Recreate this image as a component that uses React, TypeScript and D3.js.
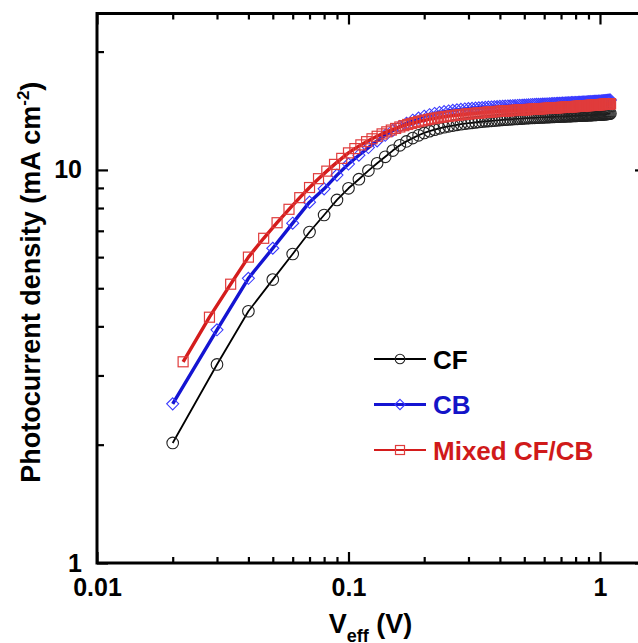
import { useEffect, useRef } from "react";
import * as d3 from "d3";

// V_eff (V) for the CF and CB sweeps
const VOLT = [
  0.02, 0.03, 0.04, 0.05, 0.06, 0.07, 0.08, 0.09, 0.1, 0.11,
  0.12, 0.13, 0.14, 0.15, 0.16, 0.17, 0.18, 0.19, 0.2, 0.21,
  0.22, 0.23, 0.24, 0.25, 0.26, 0.27, 0.28, 0.29, 0.3, 0.31,
  0.32, 0.33, 0.34, 0.35, 0.36, 0.37, 0.38, 0.39, 0.4, 0.41,
  0.42, 0.43, 0.44, 0.45, 0.46, 0.47, 0.48, 0.49, 0.5, 0.51,
  0.52, 0.53, 0.54, 0.55, 0.56, 0.57, 0.58, 0.59, 0.6, 0.61,
  0.62, 0.63, 0.64, 0.65, 0.66, 0.67, 0.68, 0.69, 0.7, 0.71,
  0.72, 0.73, 0.74, 0.75, 0.76, 0.77, 0.78, 0.79, 0.8, 0.81,
  0.82, 0.83, 0.84, 0.85, 0.86, 0.87, 0.88, 0.89, 0.9, 0.91,
  0.92, 0.93, 0.94, 0.95, 0.96, 0.97, 0.98, 0.99, 1.0, 1.01,
  1.02, 1.03, 1.04, 1.05, 1.06, 1.07, 1.08, 1.09, 1.1,
];

// photocurrent density (mA cm-2)
const CF = [
  2.02, 3.2, 4.37, 5.26, 6.11, 6.95, 7.68, 8.39, 8.98, 9.47,
  9.96, 10.4, 10.8, 11.2, 11.55, 11.82, 12.05, 12.25, 12.42, 12.55,
  12.66, 12.76, 12.84, 12.91, 12.97, 13.02, 13.07, 13.11, 13.15, 13.18,
  13.21, 13.24, 13.27, 13.29, 13.31, 13.33, 13.35, 13.37, 13.39, 13.41,
  13.42, 13.44, 13.45, 13.47, 13.48, 13.49, 13.5, 13.51, 13.53, 13.54,
  13.55, 13.56, 13.57, 13.57, 13.58, 13.59, 13.6, 13.61, 13.61, 13.62,
  13.63, 13.63, 13.64, 13.65, 13.65, 13.66, 13.66, 13.67, 13.68, 13.68,
  13.69, 13.69, 13.7, 13.7, 13.71, 13.71, 13.72, 13.72, 13.73, 13.73,
  13.74, 13.74, 13.75, 13.75, 13.76, 13.76, 13.77, 13.77, 13.78, 13.78,
  13.79, 13.79, 13.8, 13.8, 13.81, 13.81, 13.82, 13.82, 13.83, 13.83,
  13.84, 13.85, 13.85, 13.86, 13.87, 13.88, 13.89, 13.9, 13.92,
];

const CB = [
  2.54, 3.92, 5.3, 6.32, 7.32, 8.28, 8.95, 9.7, 10.35, 10.9,
  11.4, 11.85, 12.25, 12.6, 12.9, 13.15, 13.38, 13.55, 13.7, 13.82,
  13.92, 14.0, 14.07, 14.13, 14.18, 14.22, 14.26, 14.29, 14.32, 14.35,
  14.37, 14.39, 14.41, 14.43, 14.45, 14.46, 14.48, 14.49, 14.51, 14.52,
  14.53, 14.55, 14.56, 14.57, 14.58, 14.59, 14.6, 14.61, 14.62, 14.63,
  14.64, 14.65, 14.66, 14.67, 14.68, 14.68, 14.69, 14.7, 14.71, 14.72,
  14.72, 14.73, 14.74, 14.75, 14.75, 14.76, 14.77, 14.77, 14.78, 14.79,
  14.79, 14.8, 14.81, 14.81, 14.82, 14.83, 14.83, 14.84, 14.85, 14.85,
  14.86, 14.86, 14.87, 14.88, 14.88, 14.89, 14.89, 14.9, 14.91, 14.91,
  14.92, 14.93, 14.93, 14.94, 14.95, 14.95, 14.96, 14.97, 14.97, 14.98,
  14.99, 15.0, 15.0, 15.01, 15.02, 15.03, 15.04, 15.05, 15.06,
];

// the mixed device was swept with a finer step
const VOLT_MIX = [
  0.022, 0.028, 0.034, 0.04, 0.046, 0.052, 0.058, 0.064, 0.07, 0.076,
  0.082, 0.088, 0.094, 0.1, 0.106, 0.112, 0.118, 0.124, 0.13, 0.136,
  0.142, 0.148, 0.154, 0.16, 0.166, 0.172, 0.178, 0.184, 0.19, 0.196,
  0.202, 0.208, 0.214, 0.22, 0.226, 0.232, 0.238, 0.244, 0.25, 0.256,
  0.262, 0.268, 0.274, 0.28, 0.286, 0.292, 0.298, 0.304, 0.31, 0.316,
  0.322, 0.328, 0.334, 0.34, 0.346, 0.352, 0.358, 0.364, 0.37, 0.376,
  0.382, 0.388, 0.394, 0.4, 0.406, 0.412, 0.418, 0.424, 0.43, 0.436,
  0.442, 0.448, 0.454, 0.46, 0.466, 0.472, 0.478, 0.484, 0.49, 0.496,
  0.502, 0.508, 0.514, 0.52, 0.526, 0.532, 0.538, 0.544, 0.55, 0.556,
  0.562, 0.568, 0.574, 0.58, 0.586, 0.592, 0.598, 0.604, 0.61, 0.616,
  0.622, 0.628, 0.634, 0.64, 0.646, 0.652, 0.658, 0.664, 0.67, 0.676,
  0.682, 0.688, 0.694, 0.7, 0.706, 0.712, 0.718, 0.724, 0.73, 0.736,
  0.742, 0.748, 0.754, 0.76, 0.766, 0.772, 0.778, 0.784, 0.79, 0.796,
  0.802, 0.808, 0.814, 0.82, 0.826, 0.832, 0.838, 0.844, 0.85, 0.856,
  0.862, 0.868, 0.874, 0.88, 0.886, 0.892, 0.898, 0.904, 0.91, 0.916,
  0.922, 0.928, 0.934, 0.94, 0.946, 0.952, 0.958, 0.964, 0.97, 0.976,
  0.982, 0.988, 0.994, 1.0, 1.006, 1.012, 1.018, 1.024, 1.03, 1.036,
  1.042, 1.048, 1.054, 1.06, 1.066, 1.072, 1.078, 1.084, 1.09, 1.096,
  1.102,
];

const MIX = [
  3.25, 4.22, 5.12, 6.0, 6.7, 7.34, 7.94, 8.5, 9.02, 9.5,
  9.93, 10.33, 10.7, 11.05, 11.33, 11.58, 11.8, 12.0, 12.18, 12.35,
  12.5, 12.63, 12.75, 12.86, 12.96, 13.05, 13.13, 13.2, 13.27, 13.33,
  13.39, 13.44, 13.49, 13.53, 13.57, 13.61, 13.64, 13.67, 13.7, 13.73,
  13.75, 13.78, 13.8, 13.82, 13.84, 13.86, 13.88, 13.9, 13.91, 13.93,
  13.94, 13.96, 13.97, 13.99, 14.0, 14.01, 14.03, 14.04, 14.05, 14.06,
  14.07, 14.08, 14.09, 14.1, 14.11, 14.12, 14.13, 14.13, 14.14, 14.15,
  14.16, 14.16, 14.17, 14.18, 14.19, 14.19, 14.2, 14.21, 14.21, 14.22,
  14.23, 14.23, 14.24, 14.25, 14.25, 14.26, 14.27, 14.27, 14.28, 14.28,
  14.29, 14.3, 14.3, 14.31, 14.31, 14.32, 14.33, 14.33, 14.34, 14.34,
  14.35, 14.35, 14.36, 14.37, 14.37, 14.38, 14.38, 14.39, 14.39, 14.4,
  14.4, 14.41, 14.41, 14.42, 14.42, 14.43, 14.43, 14.44, 14.44, 14.45,
  14.45, 14.46, 14.46, 14.47, 14.47, 14.48, 14.48, 14.49, 14.49, 14.5,
  14.5, 14.51, 14.51, 14.52, 14.52, 14.53, 14.53, 14.54, 14.54, 14.55,
  14.55, 14.56, 14.56, 14.57, 14.57, 14.58, 14.58, 14.58, 14.59, 14.59,
  14.6, 14.6, 14.61, 14.61, 14.62, 14.62, 14.63, 14.63, 14.63, 14.64,
  14.64, 14.65, 14.65, 14.66, 14.66, 14.67, 14.67, 14.67, 14.68, 14.68,
  14.69, 14.69, 14.7, 14.7, 14.7, 14.71, 14.71, 14.72, 14.72, 14.73,
  14.73,
];

const X_MAJOR = [0.01, 0.1, 1];
const X_MAJOR_LABELS = ["0.01", "0.1", "1"];
const X_MINOR = [0.02, 0.03, 0.04, 0.05, 0.06, 0.07, 0.08, 0.09, 0.2, 0.3, 0.4, 0.5, 0.6, 0.7, 0.8, 0.9];
const Y_MAJOR = [1, 10];
const Y_MAJOR_LABELS = ["1", "10"];
const Y_MINOR = [2, 3, 4, 5, 6, 7, 8, 9, 20];

const LEGEND = ["CF", "CB", "Mixed CF/CB"];

const W = 638;
const H = 643;
const FONT = "'Liberation Sans', Arial, Helvetica, sans-serif";

export default function App() {
  const ref = useRef<SVGSVGElement>(null);

  useEffect(() => {
    const el = ref.current;
    if (!el) return;
    const svg = d3.select(el);
    svg.selectAll("*").remove();

    // the right edge of the frame sits just outside the picture
    const L = 97, T = 13.5, R = 646, B = 563;
    const x = d3.scaleLog().domain([0.01, 1.524]).range([L, R]);
    const y = d3.scaleLog().domain([1, 25]).range([B, T]);

    const styleAxis = (g: any) => {
      g.select(".domain").remove();
      g.selectAll(".tick line").attr("stroke", "#000").attr("stroke-width", 2.2);
      g.selectAll(".tick text")
        .attr("fill", "#000")
        .style("font-family", FONT)
        .style("font-weight", "bold")
        .style("font-size", "25px");
    };

    // minor ticks, all four sides
    svg.append("g").attr("transform", `translate(0,${B})`)
      .call(d3.axisBottom(x).tickValues(X_MINOR).tickSize(-6).tickFormat(() => ""))
      .call(styleAxis);
    svg.append("g").attr("transform", `translate(0,${T})`)
      .call(d3.axisTop(x).tickValues(X_MINOR).tickSize(-6).tickFormat(() => ""))
      .call(styleAxis);
    svg.append("g").attr("transform", `translate(${L},0)`)
      .call(d3.axisLeft(y).tickValues(Y_MINOR).tickSize(-7).tickFormat(() => ""))
      .call(styleAxis);
    svg.append("g").attr("transform", `translate(${R},0)`)
      .call(d3.axisRight(y).tickValues(Y_MINOR).tickSize(-7).tickFormat(() => ""))
      .call(styleAxis);

    // major ticks + labels
    svg.append("g").attr("transform", `translate(0,${B})`)
      .call(d3.axisBottom(x).tickValues(X_MAJOR).tickSize(-11).tickPadding(15)
        .tickFormat((_, i) => X_MAJOR_LABELS[i]))
      .call(styleAxis);
    svg.append("g").attr("transform", `translate(0,${T})`)
      .call(d3.axisTop(x).tickValues(X_MAJOR).tickSize(-11).tickFormat(() => ""))
      .call(styleAxis);
    svg.append("g").attr("transform", `translate(${L},0)`)
      .call(d3.axisLeft(y).tickValues(Y_MAJOR).tickSize(-11).tickPadding(15)
        .tickFormat((_, i) => Y_MAJOR_LABELS[i]))
      .call(styleAxis);
    svg.append("g").attr("transform", `translate(${R},0)`)
      .call(d3.axisRight(y).tickValues(Y_MAJOR).tickSize(-11).tickFormat(() => ""))
      .call(styleAxis);

    // frame
    svg.append("rect")
      .attr("x", L).attr("y", T).attr("width", R - L).attr("height", B - T)
      .attr("fill", "none").attr("stroke", "#000").attr("stroke-width", 3);

    const line = d3.line<[number, number]>().x((d) => x(d[0])).y((d) => y(d[1]));

    const circle = (g: any, cx: number, cy: number, r: number, c: string) =>
      g.append("circle").attr("cx", cx).attr("cy", cy).attr("r", r)
        .attr("fill", "none").attr("stroke", c).attr("stroke-width", 1.1);
    const diamond = (g: any, cx: number, cy: number, r: number, c: string) =>
      g.append("path").attr("d", `M${cx},${cy - r}L${cx + r},${cy}L${cx},${cy + r}L${cx - r},${cy}Z`)
        .attr("fill", "none").attr("stroke", c).attr("stroke-width", 1.1);
    const square = (g: any, cx: number, cy: number, r: number, c: string) =>
      g.append("rect").attr("x", cx - r).attr("y", cy - r).attr("width", 2 * r).attr("height", 2 * r)
        .attr("fill", "none").attr("stroke", c).attr("stroke-width", 1.2);

    const series = [
      { name: LEGEND[0], xs: VOLT, ys: CF, color: "#000000", mk: "#222222", lw: 1.8, shape: circle, size: 5.8, text: "#000000" },
      { name: LEGEND[1], xs: VOLT, ys: CB, color: "#1414d2", mk: "#3a3aff", lw: 3.4, shape: diamond, size: 6, text: "#1414c8" },
      { name: LEGEND[2], xs: VOLT_MIX, ys: MIX, color: "#d41c1c", mk: "#e03c3c", lw: 3.4, shape: square, size: 5, text: "#d01a1a" },
    ];

    series.forEach((s) => {
      const pts = s.xs.map((v, i) => [v, s.ys[i]] as [number, number]);
      const g = svg.append("g");
      g.append("path").attr("d", line(pts)).attr("fill", "none")
        .attr("stroke", s.color).attr("stroke-width", s.lw).attr("stroke-linejoin", "round");
      pts.forEach((p) => s.shape(g, x(p[0]), y(p[1]), s.size, s.mk));
    });

    // legend
    const leg = svg.append("g");
    series.forEach((s, i) => {
      const ly = 359 + i * 45.5;
      leg.append("line").attr("x1", 374).attr("x2", 426).attr("y1", ly).attr("y2", ly)
        .attr("stroke", s.color).attr("stroke-width", i === 0 ? 1.8 : i === 1 ? 3 : 2.2);
      s.shape(leg, 400, ly, i === 0 ? 4.8 : i === 1 ? 5.2 : 4.5, s.mk);
      leg.append("text").attr("x", 433).attr("y", ly + 9.5)
        .attr("fill", s.text)
        .style("font-family", FONT).style("font-weight", "bold").style("font-size", "26px")
        .text(s.name);
    });

    // axis titles
    const yt = svg.append("text")
      .attr("transform", `translate(40,${(T + B) / 2 - 6}) rotate(-90)`)
      .attr("text-anchor", "middle")
      .style("font-family", FONT).style("font-weight", "bold").style("font-size", "27px");
    yt.append("tspan").text("Photocurrent density (mA cm");
    yt.append("tspan").attr("dy", -11).style("font-size", "17px").text("-2");
    yt.append("tspan").attr("dy", 11).text(")");

    // x title: centred on the full frame, its subscript runs off the bottom as in the source
    const xt = svg.append("text")
      .attr("x", (L + R) / 2 - 1).attr("y", 633)
      .attr("text-anchor", "middle")
      .style("font-family", FONT).style("font-weight", "bold").style("font-size", "27px");
    xt.append("tspan").text("V");
    xt.append("tspan").attr("dy", 9).style("font-size", "18px").text("eff");
    xt.append("tspan").attr("dy", -9).text(" (V)");
  }, []);

  return (
    <svg
      ref={ref}
      width={W}
      height={H}
      style={{ position: "absolute", left: 0, top: 0, background: "#fff" }}
    />
  );
}
